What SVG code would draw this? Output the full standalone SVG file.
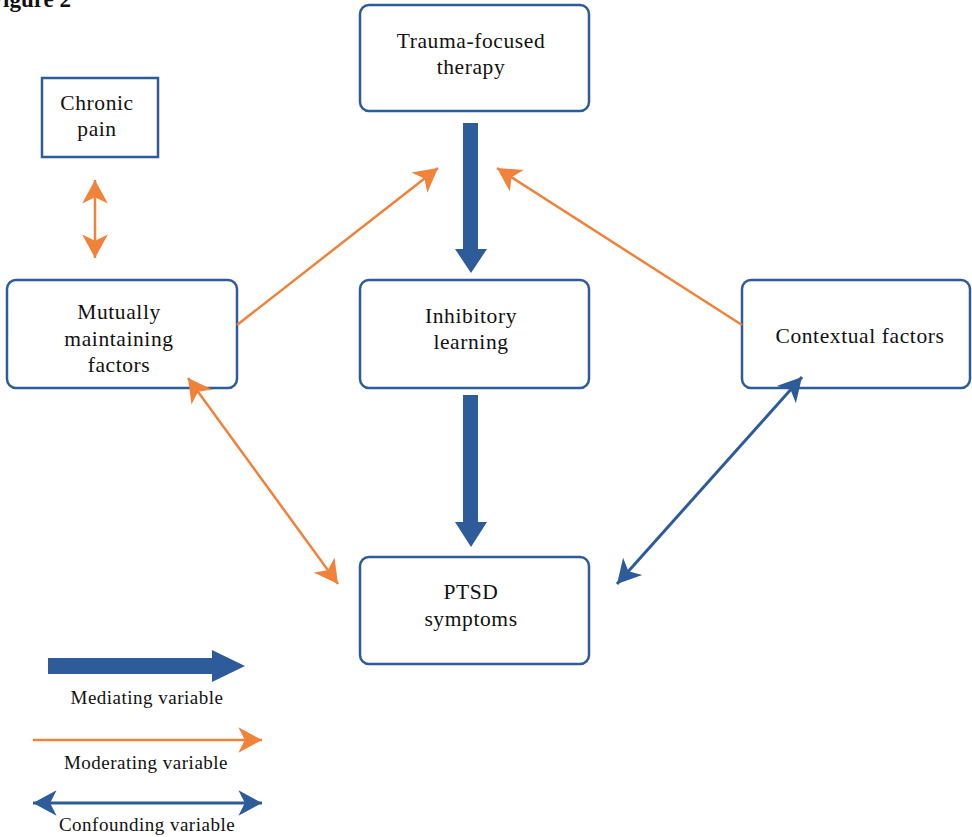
<svg xmlns="http://www.w3.org/2000/svg" width="972" height="837" viewBox="0 0 972 837">
<defs>
<style>
.box{fill:#fff;stroke:#2E5C9A;stroke-width:2.5}
.t{font-family:"Liberation Serif",serif;font-size:21.5px;letter-spacing:0.6px;fill:#111;text-anchor:middle}
.lt{font-family:"Liberation Serif",serif;font-size:19px;letter-spacing:0.5px;fill:#111;text-anchor:middle}
.or{stroke:#F0823A;stroke-width:2.5;fill:none}
.bl{stroke:#2E5C9A;stroke-width:3;fill:none}
.fatb{fill:#2E5C9A}
</style>
<marker id="ho" markerUnits="userSpaceOnUse" markerWidth="30" markerHeight="30" viewBox="-2 -14 28 28" refX="22" refY="0" orient="auto-start-reverse">
<path d="M0,-12 L22,0 L0,12 L6,0 z" fill="#F0823A"/>
</marker>
<marker id="hb" markerUnits="userSpaceOnUse" markerWidth="30" markerHeight="30" viewBox="-2 -14 28 28" refX="22" refY="0" orient="auto-start-reverse">
<path d="M0,-12 L22,0 L0,12 L6,0 z" fill="#2E5C9A"/>
</marker>
</defs>
<rect width="972" height="837" fill="#fff"/>
<text x="-11" y="7" font-family="Liberation Serif,serif" font-weight="bold" font-size="23" fill="#111">Figure 2</text>

<g id="trauma"><rect class="box" x="360" y="5" width="229" height="106" rx="9"/><text class="t" x="471" y="48">Trauma-focused</text><text class="t" x="471" y="74">therapy</text></g>
<g id="chronic"><rect class="box" x="42" y="78" width="116" height="79"/><text class="t" x="97" y="110">Chronic</text><text class="t" x="97" y="136">pain</text></g>
<g id="mutual"><rect class="box" x="7" y="280" width="230" height="108" rx="9"/><text class="t" x="119" y="319">Mutually</text><text class="t" x="119" y="346">maintaining</text><text class="t" x="119" y="372">factors</text></g>
<g id="inhib"><rect class="box" x="360" y="280" width="229" height="108" rx="9"/><text class="t" x="471" y="323">Inhibitory</text><text class="t" x="471" y="349">learning</text></g>
<g id="context"><rect class="box" x="742" y="280" width="228" height="108" rx="9"/><text class="t" x="860" y="343">Contextual factors</text></g>
<g id="ptsd"><rect class="box" x="360" y="557" width="229" height="107" rx="9"/><text class="t" x="471" y="599">PTSD</text><text class="t" x="471" y="626">symptoms</text></g>

<g id="connectors">
<path class="fatb" d="M463,123 H478 V249 H487 L471,273 L455,249 H463 z"/>
<path class="fatb" d="M463,395 H478 V522 H487 L471,547 L455,522 H463 z"/>
<line class="or" x1="237" y1="325" x2="438" y2="168" marker-end="url(#ho)"/>
<line class="or" x1="742" y1="325" x2="497" y2="168" marker-end="url(#ho)"/>
<line class="or" x1="95" y1="180" x2="95" y2="258" marker-start="url(#ho)" marker-end="url(#ho)"/>
<line class="or" x1="188" y1="378" x2="338" y2="584" marker-start="url(#ho)" marker-end="url(#ho)"/>
<line class="bl" x1="802" y1="377" x2="617" y2="584" marker-start="url(#hb)" marker-end="url(#hb)"/>
</g>

<g id="legend">
<path class="fatb" d="M48,658 H212 V650 L245,666 L212,682 V674 H48 z"/>
<text class="lt" x="147" y="704">Mediating variable</text>
<line class="or" x1="33" y1="740" x2="262" y2="740" marker-end="url(#ho)"/>
<text class="lt" x="146" y="769">Moderating variable</text>
<line class="bl" x1="33" y1="803" x2="262" y2="803" stroke-width="2.5" marker-start="url(#hb)" marker-end="url(#hb)"/>
<text class="lt" x="147" y="831">Confounding variable</text>
</g>
</svg>
